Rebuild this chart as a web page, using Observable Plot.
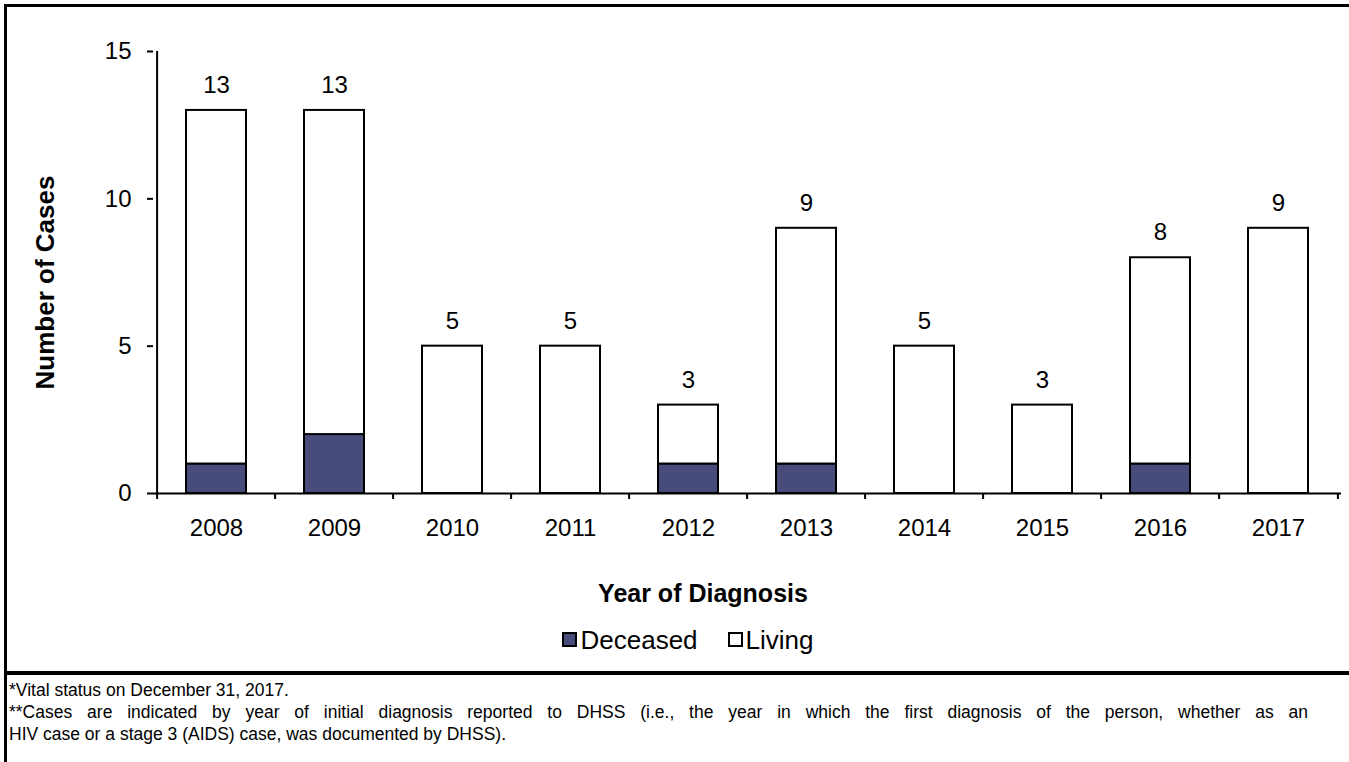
<!DOCTYPE html>
<html>
<head>
<meta charset="utf-8">
<script src="https://cdn.jsdelivr.net/npm/d3@7"></script>
<script src="https://cdn.jsdelivr.net/npm/@observablehq/plot@0.6"></script>
<style>
  html, body { margin: 0; padding: 0; background: #fff; }
  body { font-family: "Liberation Sans", Arial, sans-serif; color: #000; width: 1349px; height: 762px; overflow: hidden; position: relative; }
  #frame { position: absolute; left: 4px; top: 4px; right: 0; bottom: 0; border-top: 3px solid #000; border-left: 3px solid #000; }
  #panel { height: 664px; border-bottom: 4px solid #000; position: relative; }
  #xtitle { position: absolute; top: 572px; left: 0; width: 1392px; text-align: center; font-weight: bold; font-size: 25px; line-height: 28px; }
  #legend { position: absolute; top: 616px; left: 0; width: 1362px; text-align: center; font-size: 26px; line-height: 30px; }
  .item { display: inline-flex; align-items: center; }
  .sw { width: 11px; height: 11px; border: 2px solid #000; margin-right: 3px; display: inline-block; }
  #notes { font-size: 17.5px; line-height: 22px; padding: 4px 0 0 2px; }
  #notes .just { width: 1299px; text-align: justify; text-align-last: justify; }
  svg { display: block; }
</style>
</head>
<body>
<div id="frame">
  <div id="panel">
    <div id="chart"></div>
    <div id="xtitle">Year of Diagnosis</div>
    <div id="legend"></div>
  </div>
  <div id="notes">
    <div>*Vital status on December 31, 2017.</div>
    <div class="just">**Cases are indicated by year of initial diagnosis reported to DHSS (i.e., the year in which the first diagnosis of the person, whether as an</div>
    <div>HIV case or a stage 3 (AIDS) case, was documented by DHSS).</div>
  </div>
</div>
<script>
const years = ["2008","2009","2010","2011","2012","2013","2014","2015","2016","2017"];
const deceased = [1, 2, 0, 0, 1, 1, 0, 0, 1, 0];
const living   = [12, 11, 5, 5, 2, 8, 5, 3, 7, 9];
const seriesNames = ["Deceased", "Living"];
const seriesColors = ["#484c7a", "#ffffff"];
const yTicks = [0, 5, 10, 15];

const rows = [];
years.forEach((y, i) => rows.push({year: y, status: "Deceased", value: deceased[i]}));
years.forEach((y, i) => rows.push({year: y, status: "Living", value: living[i]}));
const bars = rows.filter(d => d.value > 0);
const totals = years.map((y, i) => ({year: y, total: deceased[i] + living[i]}));

const W = 1342, H = 536, ml = 146, mr = 8, mt = 44, mb = 50;
const step = (W - ml - mr) / years.length;
const pxPerUnit = (H - mt - mb) / 15;
const tickLen = 6 / pxPerUnit;

const chart = Plot.plot({
  width: W, height: H,
  marginLeft: ml, marginRight: mr, marginTop: mt, marginBottom: mb,
  style: {fontFamily: "'Liberation Sans', Arial, sans-serif", fontSize: "24px", color: "#000", background: "#fff", overflow: "visible"},
  x: {domain: years, paddingInner: 0.49, paddingOuter: 0.245, label: null},
  y: {domain: [0, 15], label: null},
  color: {domain: seriesNames, range: seriesColors},
  marks: [
    Plot.barY(bars, {x: "year", y: "value", fill: "status", stroke: "#000", strokeWidth: 2, order: seriesNames}),
    Plot.ruleY([0], {stroke: "#000", strokeWidth: 2}),
    Plot.ruleX([years[0]], {x: d => d, y1: 0, y2: 15, dx: -step / 2, stroke: "#000", strokeWidth: 2}),
    Plot.ruleX(years, {x: d => d, y1: 0, y2: -tickLen, dx: -step / 2, stroke: "#000", strokeWidth: 2}),
    Plot.ruleX([years[years.length - 1]], {x: d => d, y1: 0, y2: -tickLen, dx: step / 2, stroke: "#000", strokeWidth: 2}),
    Plot.axisX({tickSize: 0, tickPadding: 25, fontSize: 24}),
    Plot.axisY({ticks: yTicks, tickSize: 6, tickPadding: 16, strokeWidth: 2, fontSize: 24, label: null}),
    Plot.text(["Number of Cases"], {frameAnchor: "left", text: d => d, rotate: -90, dx: -108, dy: 10,
      textAnchor: "middle", lineAnchor: "middle", fontSize: 26, fontWeight: "bold", fill: "#000"}),
    Plot.text(totals, {x: "year", y: "total", text: d => String(d.total), dy: -25, fontSize: 24, fill: "#000"})
  ]
});
document.getElementById("chart").appendChild(chart);

const legend = document.getElementById("legend");
seriesNames.forEach((n, i) => {
  const item = document.createElement("span");
  item.className = "item";
  item.style.marginLeft = i === 0 ? "0" : "30px";
  const sw = document.createElement("span");
  sw.className = "sw";
  sw.style.background = seriesColors[i];
  item.appendChild(sw);
  item.appendChild(document.createTextNode(n));
  legend.appendChild(item);
});
</script>
</body>
</html>
